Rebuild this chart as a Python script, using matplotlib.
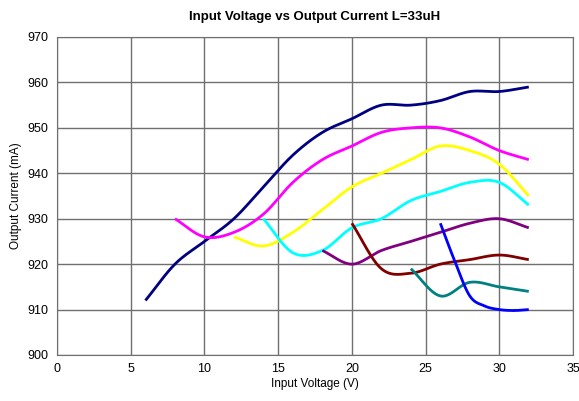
import numpy as np
import matplotlib
matplotlib.use('Agg')
import matplotlib.pyplot as plt

plt.rcParams['font.family'] = ['Liberation Sans', 'DejaVu Sans']

# Data
x_navy = [6, 8, 10, 12, 14, 16, 18, 20, 22, 24, 26, 28, 30, 32]
y_navy = [912, 920, 925, 930, 937, 944, 949, 952, 955, 955, 956, 958, 958, 959]

x_magenta = [8, 10, 12, 14, 16, 18, 20, 22, 24, 26, 28, 30, 32]
y_magenta = [930, 926, 927, 931, 938, 943, 946, 949, 950, 950, 948, 945, 943]

x_yellow = [12, 14, 16, 18, 20, 22, 24, 26, 28, 30, 32]
y_yellow = [926, 924, 927, 932, 937, 940, 943, 946, 945, 942, 935]

x_cyan = [14, 16, 18, 20, 22, 24, 26, 28, 30, 32]
y_cyan = [930, 922.5, 923, 928, 930, 934, 936, 938, 938, 933]

x_purple = [18, 20, 22, 24, 26, 28, 30, 32]
y_purple = [923, 920, 923, 925, 927, 929, 930, 928]

x_maroon = [20, 22, 24, 26, 28, 30, 32]
y_maroon = [929, 919, 918, 920, 921, 922, 921]

x_teal = [24, 26, 28, 30, 32]
y_teal = [919, 913, 916, 915, 914]

x_blue = [26, 27, 28, 29, 30, 31, 32]
y_blue = [929, 920.5, 913, 910.8, 910, 909.8, 910]

series = [
    (x_navy, y_navy, '#000080'),
    (x_magenta, y_magenta, '#ff00ff'),
    (x_yellow, y_yellow, '#ffff00'),
    (x_cyan, y_cyan, '#00ffff'),
    (x_purple, y_purple, '#800080'),
    (x_maroon, y_maroon, '#800000'),
    (x_teal, y_teal, '#008080'),
    (x_blue, y_blue, '#0000ff'),
]


def smooth(x, y, n=20):
    # Catmull-Rom style smoothing, like a spreadsheet "smoothed line"
    x = np.asarray(x, float)
    y = np.asarray(y, float)
    px = np.concatenate([[2 * x[0] - x[1]], x, [2 * x[-1] - x[-2]]])
    py = np.concatenate([[2 * y[0] - y[1]], y, [2 * y[-1] - y[-2]]])
    xs, ys = [], []
    t = np.linspace(0, 1, n)
    for i in range(1, len(px) - 2):
        for p, out in ((px, xs), (py, ys)):
            p0, p1, p2, p3 = p[i - 1], p[i], p[i + 1], p[i + 2]
            v = 0.5 * (2 * p1 + (-p0 + p2) * t
                       + (2 * p0 - 5 * p1 + 4 * p2 - p3) * t ** 2
                       + (-p0 + 3 * p1 - 3 * p2 + p3) * t ** 3)
            out.extend(v)
    return np.array(xs), np.array(ys)


fig = plt.figure(figsize=(5.79, 4.01), dpi=100)
ax = fig.add_axes([57 / 579, 1 - 355 / 401, 516 / 579, 318 / 401])

for x, y, c in series:
    sx, sy = smooth(x, y)
    ax.plot(sx, sy, color=c, linewidth=2, solid_capstyle='butt')

ax.set_xlim(0, 35)
ax.set_ylim(900, 970)
ax.set_xticks(range(0, 36, 5))
ax.set_yticks(range(900, 971, 10))
ax.grid(True, color='#707070', linewidth=1)
ax.set_axisbelow(True)
for s in ax.spines.values():
    s.set_color('#707070')
ax.tick_params(labelsize=9, length=0, pad=6)

ax.set_xlabel('Input Voltage (V)', fontsize=8.5, labelpad=2)
ax.set_ylabel('Output Current (mA)', fontsize=8.5, labelpad=4)
ax.set_title('Input Voltage vs Output Current L=33uH', fontsize=9.5,
             fontweight='bold', pad=12)

fig.savefig('out.png', dpi=100)
